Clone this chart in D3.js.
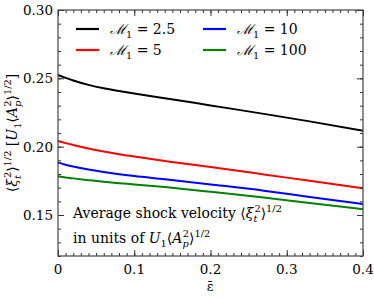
<html>
<head>
<script src="https://d3js.org/d3.v7.min.js"></script>
<style>
body { margin: 0; background: #fff; }
</style>
</head>
<body>
<svg width="374" height="299"></svg>
<script>
// eps-bar sample points
const epsValues = [0, 0.01, 0.02, 0.04, 0.06, 0.08, 0.1, 0.14, 0.2, 0.27, 0.33, 0.4];
const mach25  = [0.2524, 0.2503, 0.2484, 0.2452, 0.2427, 0.2407, 0.2389, 0.2355, 0.2302, 0.2240, 0.2185, 0.2117];
const mach5   = [0.2042, 0.2026, 0.2012, 0.1987, 0.1965, 0.1945, 0.1928, 0.1895, 0.1851, 0.1797, 0.1750, 0.1696];
const mach10  = [0.1885, 0.1868, 0.1855, 0.1833, 0.1815, 0.1799, 0.1785, 0.1762, 0.1724, 0.1678, 0.1632, 0.1581];
const mach100 = [0.1783, 0.1775, 0.1768, 0.1755, 0.1743, 0.1733, 0.1724, 0.1704, 0.1670, 0.1628, 0.1588, 0.1542];
const seriesNames = ["2.5", "5", "10", "100"];
const seriesColors = ["black", "red", "blue", "green"];
const xTicks = [0, 0.1, 0.2, 0.3, 0.4];
const yTicks = [0.15, 0.20, 0.25, 0.30];

var FONT = '"DejaVu Serif", "Liberation Serif", serif';
var margin = {left: 58, right: 11, top: 10, bottom: 43};
var W = 374, H = 299;
var pw = W - margin.left - margin.right;
var ph = H - margin.top - margin.bottom;

var svg = d3.select('svg');
var g = svg.append('g').attr('transform', 'translate(' + margin.left + ',' + margin.top + ')');

var x = d3.scaleLinear().domain([0, 0.4]).range([0, pw]);
var y = d3.scaleLinear().domain([0.12, 0.30]).range([ph, 0]);

// curves
var allSeries = [mach25, mach5, mach10, mach100];
var line = d3.line()
  .x(function(d, i) { return x(epsValues[i]); })
  .y(function(d) { return y(d); })
  .curve(d3.curveMonotoneX);

g.selectAll('path.curve')
  .data(allSeries)
  .enter()
  .append('path')
  .attr('class', 'curve')
  .attr('d', line)
  .attr('fill', 'none')
  .attr('stroke', function(d, i) { return seriesColors[i]; })
  .attr('stroke-width', 2);

// axes, ticks pointing inward
var minorX = d3.range(0, 0.4001, 0.01);
var minorY = d3.range(0.12, 0.3001, 0.01);

function inner(axis, size) { return axis.tickSizeInner(size).tickSizeOuter(0); }

g.append('g').attr('transform', 'translate(0,' + ph + ')')
  .call(inner(d3.axisTop(x).tickValues(minorX).tickFormat(''), 3));
g.append('g').attr('transform', 'translate(0,' + ph + ')')
  .call(inner(d3.axisTop(x).tickValues(xTicks).tickFormat(''), 6));
g.append('g')
  .call(inner(d3.axisBottom(x).tickValues(minorX).tickFormat(''), 3));
g.append('g')
  .call(inner(d3.axisBottom(x).tickValues(xTicks).tickFormat(''), 6));
g.append('g')
  .call(inner(d3.axisRight(y).tickValues(minorY).tickFormat(''), 3));
g.append('g')
  .call(inner(d3.axisRight(y).tickValues(yTicks).tickFormat(''), 6));
g.append('g').attr('transform', 'translate(' + pw + ',0)')
  .call(inner(d3.axisLeft(y).tickValues(minorY).tickFormat(''), 3));
g.append('g').attr('transform', 'translate(' + pw + ',0)')
  .call(inner(d3.axisLeft(y).tickValues(yTicks).tickFormat(''), 6));

g.selectAll('.domain').remove();
g.selectAll('.tick line').attr('stroke', '#333');

g.append('rect')
  .attr('width', pw).attr('height', ph)
  .attr('fill', 'none').attr('stroke', '#444').attr('stroke-width', 1.2);

// tick labels
g.selectAll('text.xlab')
  .data(xTicks).enter().append('text')
  .attr('class', 'xlab')
  .attr('x', function(d) { return x(d); })
  .attr('y', ph + 18)
  .attr('text-anchor', 'middle')
  .attr('font-family', FONT)
  .attr('font-size', 13.5)
  .text(function(d) { return d === 0 ? '0' : d3.format('.1f')(d); });

g.selectAll('text.ylab')
  .data(yTicks).enter().append('text')
  .attr('class', 'ylab')
  .attr('x', -5)
  .attr('y', function(d) { return y(d) + 5; })
  .attr('text-anchor', 'end')
  .attr('font-family', FONT)
  .attr('font-size', 13.5)
  .text(function(d) { return d3.format('.2f')(d); });

// math-ish rich text helper
function rich(sel, parts, size) {
  var shift = 0;
  sel.attr('font-family', FONT).attr('font-size', size);
  parts.forEach(function(p) {
    var t = sel.append('tspan').text(p.t);
    var target = 0, fs = size;
    if (p.s === 'sub') { target = size * 0.3; fs = size * 0.7; }
    if (p.s === 'sup') { target = -size * 0.4; fs = size * 0.7; }
    t.attr('dy', target - shift).attr('font-size', fs);
    if (p.i) t.attr('font-style', 'italic');
    if (p.dx) t.attr('dx', p.dx);
    shift = target;
  });
}

// legend
var legX = [76, 203];
var legY = [29, 50];
seriesNames.forEach(function(name, i) {
  var lx = legX[Math.floor(i / 2)];
  var ly = legY[i % 2];
  svg.append('line')
    .attr('x1', lx).attr('x2', lx + 23)
    .attr('y1', ly).attr('y2', ly)
    .attr('stroke', seriesColors[i]).attr('stroke-width', 2.2);
  var t = svg.append('text').attr('x', lx + 34).attr('y', ly + 5);
  rich(t, [{t: 'ℳ', i: true}, {t: '1', s: 'sub'}, {t: ' = ' + name}], 14);
});

// annotation text
var a1 = svg.append('text').attr('x', 73).attr('y', 218);
rich(a1, [{t: 'Average shock velocity ⟨'}, {t: 'ξ', i: true}, {t: 't', s: 'sub', i: true},
          {t: '2', s: 'sup', dx: -3}, {t: '⟩'}, {t: '1/2', s: 'sup'}], 14);
var a2 = svg.append('text').attr('x', 73).attr('y', 243);
rich(a2, [{t: 'in units of '}, {t: 'U', i: true}, {t: '1', s: 'sub'}, {t: '⟨'}, {t: 'A', i: true},
          {t: 'p', s: 'sub', i: true}, {t: '2', s: 'sup', dx: -6}, {t: '⟩'}, {t: '1/2', s: 'sup'}], 14);

// axis titles
svg.append('text')
  .attr('x', 210).attr('y', 291)
  .attr('text-anchor', 'middle')
  .attr('font-family', FONT)
  .attr('font-size', 13)
  .text('ε̄');

var yl = svg.append('text')
  .attr('transform', 'translate(17,' + (margin.top + ph / 2) + ') rotate(-90)')
  .attr('text-anchor', 'middle');
rich(yl, [{t: '⟨'}, {t: 'ξ', i: true}, {t: 't', s: 'sub', i: true}, {t: '2', s: 'sup', dx: -3},
          {t: '⟩'}, {t: '1/2', s: 'sup'}, {t: ' ['}, {t: 'U', i: true}, {t: '1', s: 'sub'},
          {t: '⟨'}, {t: 'A', i: true}, {t: 'p', s: 'sub', i: true}, {t: '2', s: 'sup', dx: -6},
          {t: '⟩'}, {t: '1/2', s: 'sup'}, {t: ']'}], 14);
</script>
</body>
</html>
